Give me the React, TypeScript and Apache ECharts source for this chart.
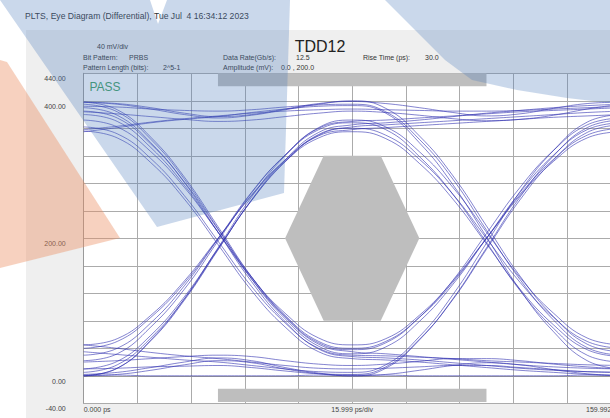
import React, { useEffect, useRef } from "react";
import * as echarts from "echarts";

// ---- data ----
const timePs = [0, 10, 20, 30, 40, 50, 60, 70, 80, 90, 100, 110, 120, 130, 140, 150, 160];

// falling at 40 ps
const F1 = [398, 387, 347, 289, 217, 144, 86, 46, 35, 32, 28, 24, 20, 16, 13, 11, 10];
const F2 = [390, 379, 339, 281, 209, 137, 79, 39, 28, 26, 23, 19, 15, 11, 8, 6, 5];
const F3 = [385, 375, 337, 282, 213, 144, 88, 50, 40, 50, 85, 136, 200, 264, 315, 350, 360];
const F4 = [372, 362, 326, 274, 209, 143, 91, 55, 45, 54, 88, 138, 200, 262, 312, 346, 355];
const F5 = [362, 352, 316, 262, 196, 130, 77, 40, 30, 29, 27, 25, 22, 20, 18, 16, 15];
const F6 = [395, 384, 344, 286, 214, 141, 83, 43, 32, 42, 79, 133, 200, 267, 321, 358, 368];
const F7 = [356, 346, 310, 257, 191, 124, 71, 35, 25, 23, 20, 16, 12, 8, 5, 2, 0];
const F8 = [380, 370, 332, 277, 209, 141, 86, 48, 38, 48, 85, 139, 207, 274, 328, 365, 375];
// rising at 40 ps
const R1 = [0, 11, 51, 110, 183, 256, 314, 354, 365, 368, 372, 377, 382, 386, 390, 393, 395];
const R2 = [10, 21, 59, 115, 185, 255, 311, 350, 360, 350, 315, 264, 200, 136, 85, 50, 40];
const R3 = [22, 32, 71, 126, 196, 266, 321, 360, 370, 372, 375, 378, 381, 384, 386, 388, 390];
const R4 = [45, 54, 88, 138, 200, 262, 312, 346, 355, 345, 309, 257, 192, 126, 74, 38, 28];
const R5 = [5, 16, 55, 112, 184, 255, 312, 351, 362, 365, 368, 371, 374, 377, 380, 383, 385];
const R6 = [30, 40, 77, 131, 199, 267, 321, 358, 368, 358, 319, 264, 194, 124, 69, 30, 20];
const R7 = [40, 50, 85, 135, 199, 263, 314, 349, 358, 361, 364, 367, 370, 373, 376, 378, 380];
const R8 = [0, 11, 52, 112, 186, 260, 320, 361, 372, 362, 326, 274, 209, 143, 91, 55, 45];
// high at 40 ps
const H1 = [398, 396, 390, 382, 377, 380, 388, 396, 399, 396, 390, 383, 378, 381, 389, 396, 398];
const H2 = [392, 391, 388, 386, 385, 387, 391, 394, 395, 384, 344, 286, 212, 140, 81, 41, 30];
const H3 = [358, 363, 369, 374, 378, 382, 385, 387, 388, 387, 386, 385, 385, 386, 388, 390, 392];
const H4 = [355, 361, 368, 373, 377, 383, 388, 392, 393, 382, 339, 278, 202, 125, 64, 22, 10];
const H5 = [384, 381, 377, 373, 370, 372, 377, 382, 385, 383, 379, 374, 371, 373, 379, 388, 395];
const H6 = [398, 395, 388, 380, 375, 379, 387, 395, 400, 389, 349, 291, 218, 145, 86, 46, 35];
// low at 40 ps
const L1 = [0, 2, 8, 16, 22, 19, 10, 3, 0, 2, 8, 15, 19, 16, 9, 3, 0];
const L2 = [10, 11, 13, 14, 15, 12, 7, 3, 2, 13, 53, 111, 184, 256, 314, 354, 365];
const L3 = [45, 40, 34, 29, 25, 20, 15, 11, 10, 11, 13, 15, 15, 12, 9, 6, 5];
const L4 = [35, 31, 27, 23, 20, 15, 10, 6, 5, 16, 57, 118, 193, 268, 328, 369, 380];
const L5 = [20, 22, 25, 28, 30, 28, 22, 17, 15, 17, 21, 25, 25, 22, 17, 13, 10];
const L6 = [2, 5, 12, 20, 26, 22, 12, 4, 0, 11, 52, 112, 186, 260, 320, 361, 372];
const L7 = [1, 1, 0, 0, 0, 0, 0, 1, 1, 1, 0, 0, 0, 0, 0, 1, 1];

const traces = [F1, F2, F3, F4, F5, F6, F7, F8, R1, R2, R3, R4, R5, R6, R7, R8, H1, H2, H3, H4, H5, H6, L1, L2, L3, L4, L5, L6, L7];

// mask (ps, mV)
const maskHexagon = [[60, 200], [71.5, 320], [88.5, 320], [100, 200], [88.5, 80], [71.5, 80]];
const maskTop = [[40, 421], [120, 421], [120, 440], [40, 440]];
const maskBottom = [[40, -38], [120, -38], [120, -19], [40, -19]];
const masks = [maskHexagon, maskTop, maskBottom];

const yLabelValues = [440, 400, 200, 0, -40];
const xLabelTexts = ["0.000 ps", "15.999 ps/div", "159.992 ps"];
const X_MAX = 159.992;
const X_DIV = 15.9992;

const FONT = '"Liberation Sans", Arial, sans-serif';

function txt(text: string, x: number, y: number, size: number, fill = "#333", align = "left") {
  return {
    type: "text",
    x,
    y,
    z: 5,
    silent: true,
    style: { text, fontSize: size, fontFamily: FONT, fill, align, verticalAlign: "middle" },
  };
}

export default function App() {
  const ref = useRef<HTMLDivElement>(null);
  useEffect(() => {
    if (!ref.current) return;
    const chart = echarts.init(ref.current, null, { renderer: "svg" });
    const lineSeries = traces.map((vals) => ({
      type: "line",
      data: vals.map((v, i) => [timePs[i], v]),
      smooth: 0.45,
      symbol: "none",
      silent: true,
      z: 2,
      lineStyle: { color: "#3030b0", width: 0.85, opacity: 0.7 },
    }));
    const option: any = {
      animation: false,
      backgroundColor: "#ffffff",
      grid: {
        left: 83.7,
        top: 73.3,
        width: 537,
        height: 330,
        show: true,
        backgroundColor: "#ffffff",
        borderWidth: 0,
        containLabel: false,
        outerBoundsMode: "none",
      },
      xAxis: {
        type: "value",
        min: 0,
        max: X_MAX,
        interval: X_DIV,
        axisLine: { show: true, lineStyle: { color: "#9a9a9a", width: 1 } },
        axisTick: { show: false },
        splitLine: { show: true, lineStyle: { color: "#ababab", width: 1 } },
        axisLabel: {
          show: true,
          showMinLabel: true,
          showMaxLabel: true,
          alignMinLabel: "left",
          alignMaxLabel: "right",
          margin: 3,
          fontSize: 7,
          fontFamily: FONT,
          color: "#444",
          formatter: (v: number) => {
            if (Math.abs(v) < 1e-6) return xLabelTexts[0];
            if (Math.abs(v - X_DIV * 5) < 1e-3) return xLabelTexts[1];
            if (Math.abs(v - X_MAX) < 1e-3) return xLabelTexts[2];
            return "";
          },
        },
      },
      yAxis: {
        type: "value",
        min: -40,
        max: 440,
        interval: 40,
        axisLine: { show: true, lineStyle: { color: "#9a9a9a", width: 1 } },
        axisTick: { show: false },
        splitLine: { show: true, lineStyle: { color: "#ababab", width: 1 } },
        axisLabel: {
          show: true,
          showMinLabel: true,
          showMaxLabel: true,
          margin: 18,
          fontSize: 7,
          fontFamily: FONT,
          color: "#444",
          verticalAlign: "top",
          padding: [2, 0, 0, 0],
          formatter: (v: number) => (yLabelValues.some((t) => Math.abs(t - v) < 1e-6) ? v.toFixed(2) : ""),
        },
      },
      series: [
        ...lineSeries,
        {
          type: "custom",
          z: 3,
          silent: true,
          data: masks.map((m, i) => [m[0][0], m[0][1], i]),
          renderItem: (params: any, api: any) => {
            const pts = masks[params.dataIndex].map((p) => api.coord(p));
            return { type: "polygon", shape: { points: pts }, style: { fill: "#bebebe" } };
          },
        },
      ],
      graphic: {
        elements: [
          { type: "rect", z: -10, silent: true, shape: { x: 26, y: 30, width: 600, height: 388 }, style: { fill: "#efefef" } },
          txt("PLTS, Eye Diagram (Differential), Tue Jul  4 16:34:12 2023", 25, 16, 8.6, "#333"),
          txt("40 mV/div", 97, 46, 7),
          txt("TDD12", 320, 46, 16, "#222", "center"),
          txt("Bit Pattern:", 83, 57.5, 7),
          txt("PRBS", 129, 57.5, 7),
          txt("Data Rate(Gb/s):", 223, 57.5, 7),
          txt("12.5", 296, 57.5, 7),
          txt("Rise Time (ps):", 363, 57.5, 7),
          txt("30.0", 425, 57.5, 7),
          txt("Pattern Length (bits):", 83, 67.5, 7),
          txt("2^5-1", 163, 67.5, 7),
          txt("Amplitude (mV):", 223, 67.5, 7),
          txt("0.0 , 200.0", 281, 67.5, 7),
          txt("PASS", 89.5, 87, 12, "#3e9e62"),
          {
            type: "polygon",
            z: 100,
            silent: true,
            shape: { points: [[0, 0], [150, 0], [158, 24], [167, 0], [290, 0], [284, 193], [157, 227]] },
            style: { fill: "rgba(80,125,190,0.3)" },
          },
          {
            type: "polygon",
            z: 100,
            silent: true,
            shape: {
              points: [[385, 0], [415, 30], [445, 60], [472, 80], [517, 90], [567, 98], [610, 103], [610, 0]],
            },
            style: { fill: "rgba(80,125,190,0.3)" },
          },
          {
            type: "polygon",
            z: 100,
            silent: true,
            shape: { points: [[0, 60], [7, 62], [120, 238], [0, 268]] },
            style: { fill: "rgba(235,140,95,0.4)" },
          },
        ],
      },
    };
    chart.setOption(option);
    return () => chart.dispose();
  }, []);
  return <div ref={ref} style={{ position: "absolute", left: 0, top: 0, width: 610, height: 418 }} />;
}
